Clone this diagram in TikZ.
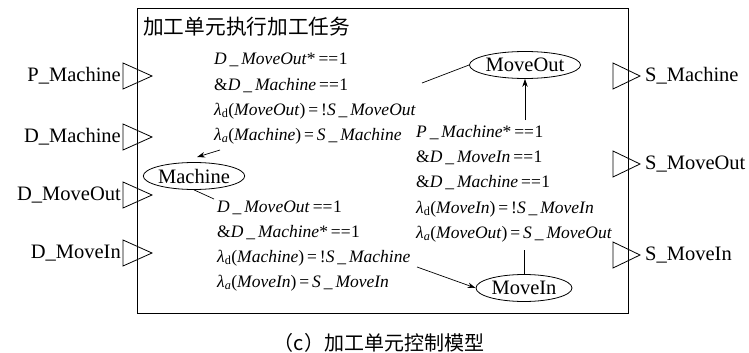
\documentclass[tikz,border=0pt]{standalone}
\usepackage{fontspec}
\setmainfont{Liberation Serif}
\newfontfamily\cjk{Noto Sans CJK SC}
\usetikzlibrary{arrows.meta,shapes.geometric}
\newcommand\ul{\,\_\,}
\newcommand\eqq{\textup{\,==\kern0.5pt1}}
\newcommand\lamd{λ\textsubscript{\textup{d}}}
\newcommand\lama{λ\textsubscript{a}}
\newcommand\op{\textup{(}}
\newcommand\cp{\textup{)}}
\newcommand\eqs{\textup{\,=\,}}
\newcommand\amp{\textup{\&}}
\tikzset{
  lab/.style={font=\fontsize{20.5}{24}\selectfont, inner sep=0},
  cond/.style={font=\fontsize{17.5}{21}\selectfont\itshape, anchor=base west, inner sep=0},
  st/.style={draw, ellipse, line width=0.8pt, minimum width=96pt, minimum height=27pt, inner sep=0, font=\fontsize{20.5}{24}\selectfont},
  port/.style={draw, line width=0.8pt},
  con/.style={line width=0.7pt},
  arr/.style={con, -{Stealth[length=8pt,width=5.5pt]}},
}
\begin{document}
\begin{tikzpicture}[x=1pt,y=-1pt]
\useasboundingbox (0,0) rectangle (749,353);
% frame
\draw[line width=0.9pt] (137,8) rectangle (628,313);
\node[font=\cjk\fontsize{20.7}{24}\selectfont, anchor=west, inner sep=0] (title) at (143,27) {加工单元执行加工任务};
% input ports
\foreach \y in {76,137,195,253}{
  \draw[port] (123,\y-13) -- (152,\y) -- (123,\y+13) -- cycle;
}
\node[lab, anchor=east] (pm) at (121,76) {P\_Machine};
\node[lab, anchor=east] (dm) at (121,137) {D\_Machine};
\node[lab, anchor=east] (dmo) at (121,195) {D\_MoveOut};
\node[lab, anchor=east] (dmi) at (121,253) {D\_MoveIn};
% output ports
\foreach \y in {76,164,255}{
  \draw[port] (613,\y-13) -- (640,\y) -- (613,\y+13) -- cycle;
}
\node[lab, anchor=west] (sm) at (645,76) {S\_Machine};
\node[lab, anchor=west] (smo) at (645,164) {S\_MoveOut};
\node[lab, anchor=west] (smi) at (645,255) {S\_MoveIn};
% states
\node[st] (m) at (194,176) {Machine};
\node[st] (mo) at (525,65) {MoveOut};
\node[st] (mi) at (524,288) {MoveIn};
% condition block 1
\node[cond] (a1) at (214,65) {D\ul MoveOut\textup{*}\eqq};
\node[cond] (a2) at (214,90) {\amp D\ul Machine\eqq};
\node[cond] (a3) at (214,115) {\lamd\op MoveOut\cp\eqs\textup{!}S\ul MoveOut};
\node[cond] (a4) at (214,140) {\lama\op Machine\cp\eqs S\ul Machine};
% condition block 2
\node[cond] (b1) at (217,212) {D\ul MoveOut\eqq};
\node[cond] (b2) at (217,237) {\amp D\ul Machine\textup{*}\eqq};
\node[cond] (b3) at (217,262) {\lamd\op Machine\cp\eqs\textup{!}S\ul Machine};
\node[cond] (b4) at (217,287) {\lama\op MoveIn\cp\eqs S\ul MoveIn};
% condition block 3
\node[cond] (c1) at (416,137) {P\ul Machine\textup{*}\eqq};
\node[cond] (c2) at (416,162) {\amp D\ul MoveIn\eqq};
\node[cond] (c3) at (416,187) {\amp D\ul Machine\eqq};
\node[cond] (c4) at (416,213) {\lamd\op MoveIn\cp\eqs\textup{!}S\ul MoveIn};
\node[cond] (c5) at (416,238) {\lama\op MoveOut\cp\eqs S\ul MoveOut};
% connectors
\coordinate (k1) at (422,83);
\coordinate (k2) at (220,150);
\coordinate (k3) at (214,199);
\coordinate (k4) at (417,267);
\coordinate (k5) at (525,120);
\coordinate (k6) at (524,250);
\draw[con] (k1) -- (mo.west);
\draw[arr] (k2) -- ([shift={(3pt,5pt)}]m.north);
\draw[con] (m.south) -- (k3);
\draw[arr] (k4) -- (mi.west);
\draw[arr] (k5) -- (mo.south);
\draw[con] (mi.north) -- (k6);
% caption
\node[font=\cjk\fontsize{20}{24}\selectfont, inner sep=0] (cap) at (379,343) {（c）加工单元控制模型};
\end{tikzpicture}
\end{document}
